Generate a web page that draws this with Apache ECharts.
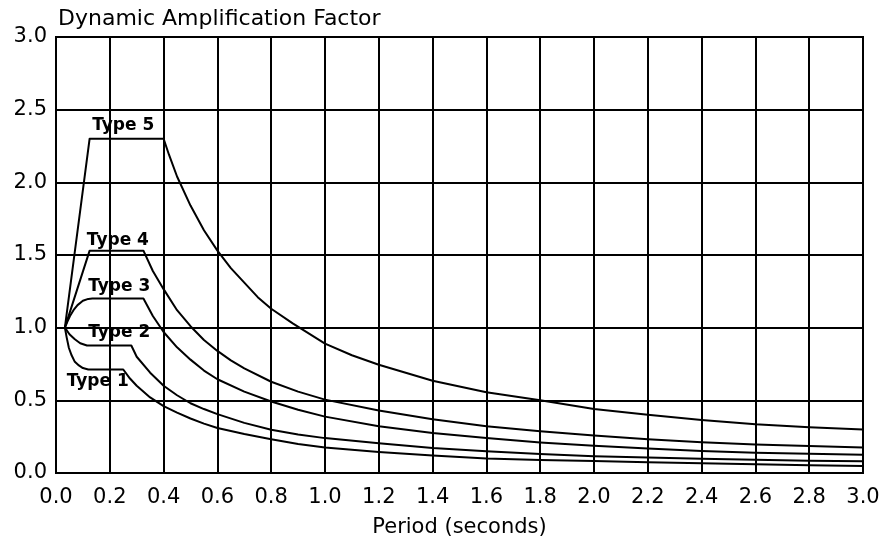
<!DOCTYPE html>
<html>
<head>
<meta charset="utf-8">
<script src="https://cdn.jsdelivr.net/npm/echarts@6/dist/echarts.min.js"></script>
<style>
  html, body { margin:0; padding:0; background:#fff; }
  #chart { width:884px; height:543px; }
</style>
</head>
<body>
<div id="chart"></div>
<script>
// values, [period (s), factor]
const type1 = [[0.033,1.0],[0.04,0.93],[0.048,0.86],[0.058,0.81],[0.07,0.765],[0.085,0.74],[0.1,0.722],[0.12,0.712],[0.25,0.712],[0.275,0.65],[0.3,0.6],[0.35,0.52],[0.4,0.46],[0.45,0.415],[0.5,0.375],[0.55,0.34],[0.6,0.31],[0.7,0.268],[0.8,0.232],[0.9,0.2],[1.0,0.175],[1.2,0.145],[1.4,0.12],[1.6,0.1],[1.8,0.09],[2.0,0.082],[2.2,0.074],[2.4,0.067],[2.6,0.06],[2.8,0.054],[3.0,0.048]];
const type2 = [[0.033,1.0],[0.05,0.955],[0.07,0.92],[0.09,0.893],[0.115,0.877],[0.28,0.877],[0.3,0.8],[0.35,0.69],[0.4,0.6],[0.45,0.535],[0.5,0.48],[0.55,0.44],[0.6,0.405],[0.7,0.345],[0.8,0.298],[0.9,0.265],[1.0,0.24],[1.2,0.205],[1.4,0.172],[1.6,0.15],[1.8,0.13],[2.0,0.115],[2.2,0.106],[2.4,0.098],[2.6,0.091],[2.8,0.085],[3.0,0.08]];
const type3 = [[0.033,1.0],[0.042,1.04],[0.052,1.08],[0.065,1.12],[0.08,1.155],[0.1,1.185],[0.12,1.198],[0.135,1.2],[0.325,1.2],[0.36,1.08],[0.4,0.97],[0.45,0.865],[0.5,0.78],[0.55,0.705],[0.6,0.645],[0.7,0.56],[0.8,0.492],[0.9,0.435],[1.0,0.388],[1.2,0.322],[1.4,0.276],[1.6,0.24],[1.8,0.21],[2.0,0.188],[2.2,0.168],[2.4,0.152],[2.6,0.14],[2.8,0.132],[3.0,0.125]];
const type4 = [[0.033,1.0],[0.125,1.53],[0.325,1.53],[0.36,1.39],[0.4,1.265],[0.45,1.12],[0.5,1.01],[0.55,0.915],[0.6,0.84],[0.65,0.775],[0.7,0.72],[0.8,0.628],[0.9,0.56],[1.0,0.505],[1.2,0.43],[1.4,0.37],[1.6,0.322],[1.8,0.287],[2.0,0.258],[2.2,0.233],[2.4,0.212],[2.6,0.196],[2.8,0.185],[3.0,0.176]];
const type5 = [[0.033,1.0],[0.125,2.3],[0.4,2.3],[0.42,2.19],[0.45,2.04],[0.5,1.84],[0.55,1.67],[0.6,1.53],[0.65,1.41],[0.7,1.31],[0.75,1.21],[0.8,1.13],[0.88,1.03],[1.0,0.89],[1.1,0.81],[1.2,0.745],[1.4,0.635],[1.6,0.555],[1.8,0.5],[2.0,0.44],[2.2,0.4],[2.4,0.365],[2.6,0.335],[2.8,0.315],[3.0,0.30]];

const curveNames = ['Type 1','Type 2','Type 3','Type 4','Type 5'];
// where each curve's name is printed on the figure
const labelAt = [[0.155,0.63],[0.235,0.965],[0.235,1.28],[0.23,1.6],[0.25,2.39]];

const xTicks = ['0.0','0.2','0.4','0.6','0.8','1.0','1.2','1.4','1.6','1.8','2.0','2.2','2.4','2.6','2.8','3.0'];
const yTicks = ['0.0','0.5','1.0','1.5','2.0','2.5','3.0'];

const FONT = 'DejaVu Sans';
const chart = echarts.init(document.getElementById('chart'));

const allData = [type1, type2, type3, type4, type5];

chart.setOption({
  backgroundColor: '#fff',
  animation: false,
  title: {
    text: 'Dynamic Amplification Factor',
    left: 53, top: 3,
    textStyle: {fontFamily: FONT, fontSize: 22, fontWeight: 'normal', color: '#000'}
  },
  grid: {left:56, right:21, top:37, bottom:68, show:true, borderColor:'#000', borderWidth:2},
  xAxis: {
    type: 'value', min: 0, max: 3.0, interval: 0.2,
    name: 'Period (seconds)', nameLocation: 'middle', nameGap: 44,
    nameTextStyle: {fontFamily: FONT, fontSize: 21, color: '#000'},
    axisLine: {lineStyle: {color:'#000', width:2}},
    axisTick: {show:false},
    axisLabel: {fontFamily: FONT, fontSize: 21, color:'#000', margin: 14,
      formatter: v => xTicks[Math.round(v / 0.2)]},
    splitLine: {lineStyle: {color:'#000', width:2}}
  },
  yAxis: {
    type: 'value', min: 0, max: 3.0, interval: 0.5,
    axisLine: {lineStyle: {color:'#000', width:2}},
    axisTick: {show:false},
    axisLabel: {fontFamily: FONT, fontSize: 21, color:'#000', margin: 9,
      formatter: v => yTicks[Math.round(v / 0.5)]},
    splitLine: {lineStyle: {color:'#000', width:2}}
  },
  series: allData.map((d, i) => ({
    type: 'line',
    name: curveNames[i],
    data: d,
    showSymbol: false,
    symbol: 'none',
    lineStyle: {color:'#000', width:2, join:'round'},
    z: 3,
    markPoint: {
      symbol: 'circle', symbolSize: 1,
      itemStyle: {color: 'rgba(0,0,0,0)'},
      label: {show:true, position:'inside', formatter: curveNames[i],
        fontFamily: FONT, fontSize: 17, fontWeight: 'bold', color:'#000'},
      data: [{coord: labelAt[i]}]
    }
  }))
});
</script>
</body>
</html>
